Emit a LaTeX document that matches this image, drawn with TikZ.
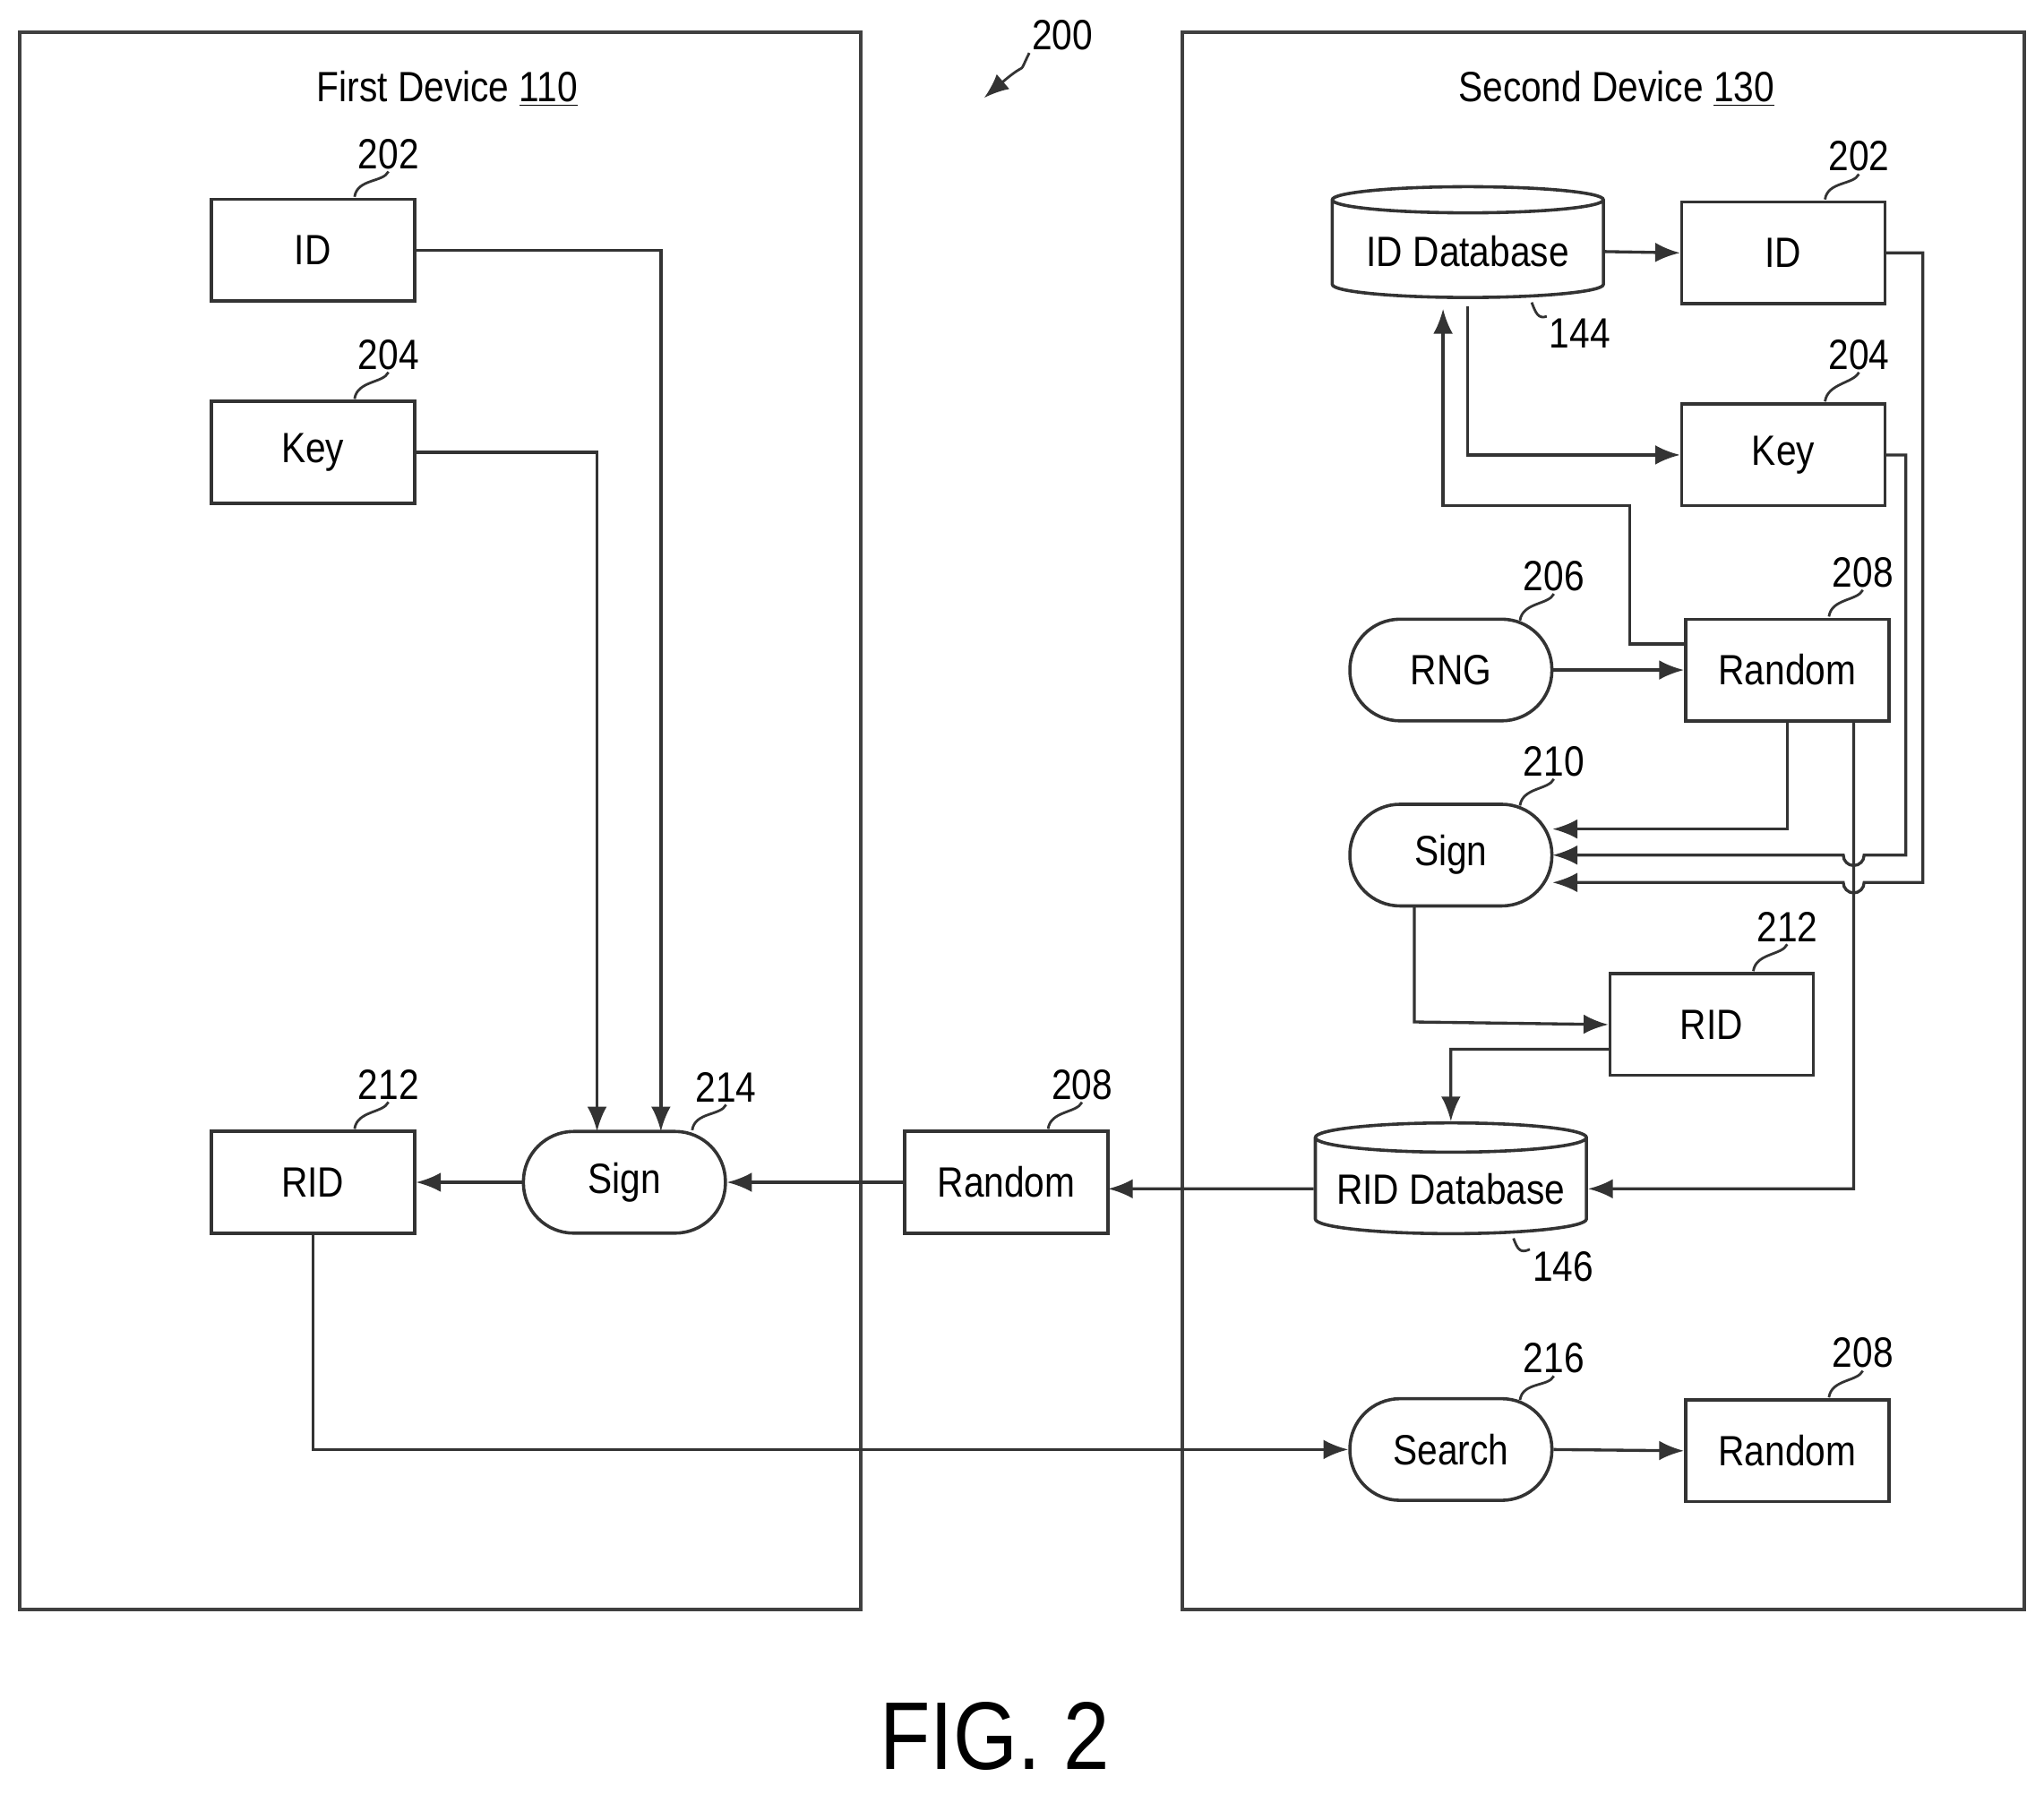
\documentclass[tikz,border=0pt]{standalone}
\usepackage{fontspec}
\setmainfont[FakeStretch=0.86]{Liberation Sans}
\usetikzlibrary{shapes.geometric,arrows.meta}
\tikzstyle{box}=[rectangle,draw=black!80,line width=1.4,minimum width=3.12cm,minimum height=1.56cm,font=\fontsize{18.5}{20}\selectfont]
\tikzstyle{oval}=[rectangle,rounded corners=0.77cm,draw=black!80,line width=1.4,minimum width=3.1cm,minimum height=1.56cm,font=\fontsize{18.5}{20}\selectfont]
\tikzstyle{dbase}=[cylinder,shape border rotate=90,aspect=0.12,draw=black!80,line width=1.4,minimum width=4.16cm,minimum height=1.7cm,font=\fontsize{18.5}{20}\selectfont]
\tikzstyle{frame}=[draw=black!75,line width=1.6]
\tikzstyle{flow}=[-{Latex[length=0.38cm,width=0.3cm]},draw=black!80,line width=1.3]
\tikzstyle{squig}=[-,draw=black!80,line width=1.1]
\tikzstyle{num}=[font=\fontsize{18.5}{20}\selectfont,inner sep=1pt]
\tikzstyle{none}=[inner sep=0pt]
\begin{document}
\begin{tikzpicture}[x=0.02cm,y=-0.02cm]
	\useasboundingbox (0,0) rectangle (1568,1376);
	% frames
	\draw [style=frame] (15,25) rectangle (660,1235);
	\draw [style=frame] (907,25) rectangle (1553,1235);
	\node [num] (t1) at (343,68) {First Device \underline{110}};
	\node [num] (t2) at (1240,68) {Second Device \underline{130}};
	\node [num] (n200) at (815,27) {200};
	\coordinate (p200) at (755,75);
	\draw [style=flow,line width=1.1] (n200.south west) .. controls (780,60) and (790,45) .. (p200);
	\node [font=\fontsize{42}{46}\selectfont] (fig) at (763,1332) {FIG. 2};
	% first device
	\node [style=box] (idA) at (240,192) {ID};
	\node [style=box] (keyA) at (240,347) {Key};
	\node [style=box] (ridA) at (240,907) {RID};
	\node [style=oval] (signA) at (479,907) {Sign};
	\node [style=box] (randM) at (772,907) {Random};
	% second device
	\node [style=dbase] (iddb) at (1126,193) {ID Database};
	\node [style=box] (idB) at (1368,194) {ID};
	\node [style=box] (keyB) at (1368,349) {Key};
	\node [style=oval] (rng) at (1113,514) {RNG};
	\node [style=box] (randB) at (1371,514) {Random};
	\node [style=oval] (signB) at (1113,656) {Sign};
	\node [style=box] (ridB) at (1313,786) {RID};
	\node [style=dbase] (riddb) at (1113,912) {RID Database};
	\node [style=oval] (search) at (1113,1112) {Search};
	\node [style=box] (randC) at (1371,1113) {Random};
	% reference numerals
	\foreach \nm/\tx/\x/\y/\bx/\by in {a202/202/298/118/272/151, a204/204/298/272/272/306, a212/212/298/832/272/866,
		a214/214/557/834/531/867, a208/208/830/832/804/866, b202/202/1426/120/1400/153, b204/204/1426/272/1400/308,
		b206/206/1192/442/1166/476, b208/208/1429/439/1403/473, b210/210/1192/584/1166/618, b212/212/1371/711/1345/745,
		c216/216/1192/1042/1166/1074, c208/208/1429/1038/1403/1072}
	{
		\node [num] (\nm) at (\x,\y) {\tx};
		\coordinate (\nm e) at (\bx,\by);
		\draw [style=squig] (\nm.south) .. controls (\x-4,\y+22) and (\bx+2,\by-14) .. (\nm e);
	}
	\node [num] (n144) at (1212,256) {144};
	\draw [style=squig] (n144.north west) .. controls (1180,245) and (1178,240) .. (1175,232);
	\node [num] (n146) at (1199,972) {146};
	\draw [style=squig] (n146.north west) .. controls (1166,962) and (1164,958) .. (1161,950);
	% left edges
	\draw [style=flow] (idA.east) -- (507,192) -- (507,868);
	\draw [style=flow] (keyA.east) -- (458,347) -- (458,868);
	\draw [style=flow] (signA.west) -- (ridA.east);
	\draw [style=flow] (randM.west) -- (signA.east);
	\draw [style=flow] (riddb.west) -- (850,912);
	\draw [style=flow] (ridA.south) -- (240,1112) -- (search.west);
	\draw [style=flow] (search.east) -- (randC.west);
	% right edges
	\draw [style=flow] (iddb.east) -- (idB.west);
	\draw [style=flow] (1126,235) -- (1126,349) -- (keyB.west);
	\draw [style=flow] (1293,494) -- (1250,494) -- (1250,388) -- (1107,388) -- (1107,237);
	\draw [style=flow] (rng.east) -- (randB.west);
	\draw [style=flow] (randB.south) -- (1371,636) -- (1191,636);
	\draw [style=flow] (keyB.east) -- (1462,349) -- (1462,656) -- (1430,656) arc (0:180:8) -- (1191,656);
	\draw [style=flow] (idB.east) -- (1475,194) -- (1475,677) -- (1430,677) arc (0:180:8) -- (1191,677);
	\draw [style=flow] (1422,553) -- (1422,912) -- (riddb.east);
	\draw [style=flow] (1085,695) -- (1085,784) -- (ridB.west);
	\draw [style=flow] (1236,805) -- (1113,805) -- (riddb.north);
\end{tikzpicture}
\end{document}
